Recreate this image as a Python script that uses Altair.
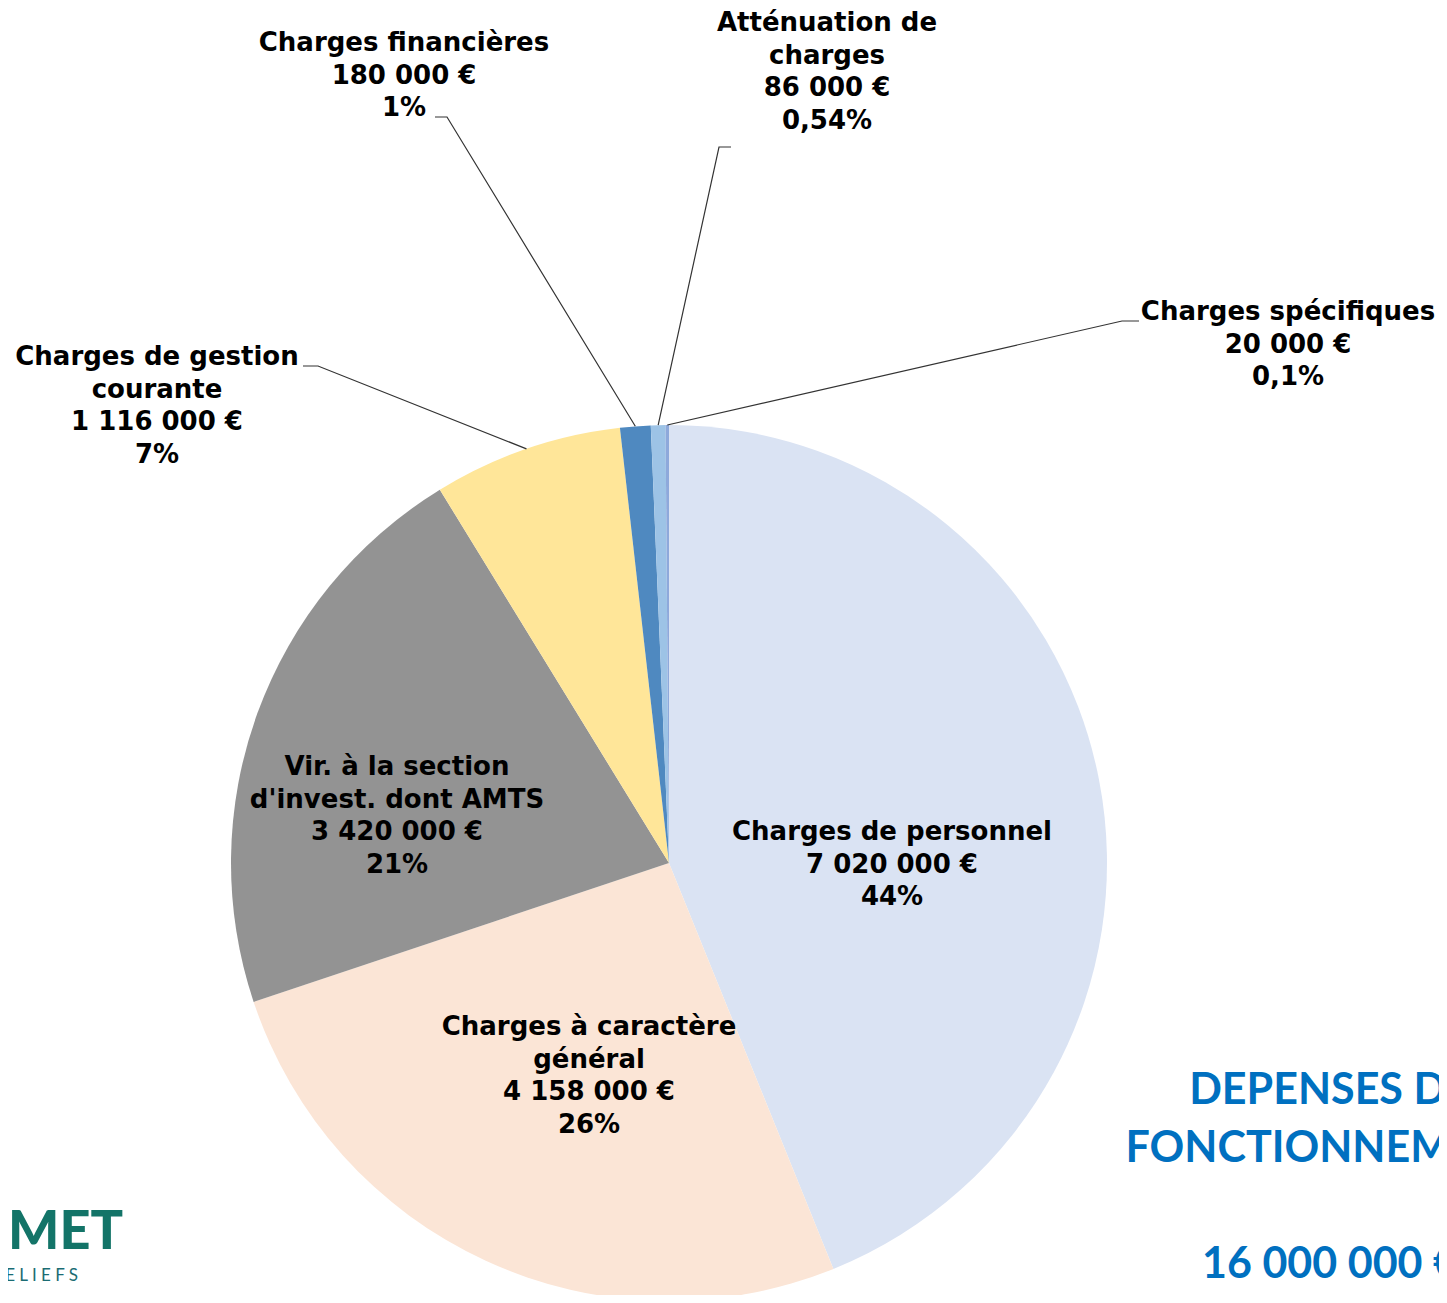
import math
import altair as alt
import pandas as pd

# ---------------- data ----------------
categories = [
    "Charges de personnel",
    "Charges à caractère général",
    "Vir. à la section d'invest. dont AMTS",
    "Charges de gestion courante",
    "Charges financières",
    "Atténuation de charges",
    "Charges spécifiques",
]
label_names = [
    ["Charges de personnel"],
    ["Charges à caractère", "général"],
    ["Vir. à la section", "d'invest. dont AMTS"],
    ["Charges de gestion", "courante"],
    ["Charges financières"],
    ["Atténuation de", "charges"],
    ["Charges spécifiques"],
]
values = [7020000, 4158000, 3420000, 1116000, 180000, 86000, 20000]
pct_labels = ["44%", "26%", "21%", "7%", "1%", "0,54%", "0,1%"]
title_lines = ["DEPENSES DE", "FONCTIONNEMENT", "", "16 000 000 €"]
logo_main = "MET"
logo_sub = "E L I E F S"

# ---------------- styles / layout ----------------
colors = ["#DAE3F3", "#FBE5D6", "#939393", "#FFE699", "#4F89C0", "#9DC3E6", "#8EA9DB"]
OFF = 8  # page margin
W, H = 1447 - 2 * OFF, 1303 - 2 * OFF
CX, CY, R = 669 - OFF, 863 - OFF, 438
FONT = "DejaVu Sans"
FS = 26
LH = 32.5
# label anchor: centre x, y of first line (page coords)
label_pos = [(892, 832), (589, 1027), (397, 767), (157, 357), (404, 43), (827, 23), (1288, 312)]
# leader lines: label-side points (page coords); None = no leader
leader_pts = [None, None, None,
              [(303, 366), (318, 366)],
              [(435, 117), (447, 117)],
              [(731, 147), (719, 147)],
              [(1139, 321), (1122, 321)]]


def fmt_eur(v):
    s = f"{v:,}".replace(",", " ")
    return s + " €"


total = sum(values)
pie_df = pd.DataFrame({"cat": categories, "value": values, "idx": list(range(len(values)))})

# text rows
rows = []
for i, cat in enumerate(categories):
    lines = label_names[i] + [fmt_eur(values[i]), pct_labels[i]]
    x0, y0 = label_pos[i]
    for k, t in enumerate(lines):
        rows.append({"px": x0 - OFF, "py": y0 - OFF + k * LH, "t": t})
text_df = pd.DataFrame(rows)

# leader lines: from label to slice edge at mid-angle
lrows = []
cum = 0
for i, v in enumerate(values):
    mid = (cum + v / 2) / total * 2 * math.pi
    cum += v
    if leader_pts[i] is None:
        continue
    pts = [(x - OFF, y - OFF) for x, y in leader_pts[i]]
    pts.append((CX + R * math.sin(mid), CY - R * math.cos(mid)))
    for k, (x, y) in enumerate(pts):
        lrows.append({"cat": categories[i], "k": k, "px": x, "py": y})
line_df = pd.DataFrame(lrows)

title_rows = [{"px": 1330 - OFF, "py": 1091 - OFF + k * 58, "t": t} for k, t in enumerate(title_lines) if t]
title_df = pd.DataFrame(title_rows)

xs = alt.X("px:Q", scale=None, axis=None)
ys = alt.Y("py:Q", scale=None, axis=None)

pie = alt.Chart(pie_df).mark_arc(radius=R).encode(
    theta=alt.Theta("value:Q", stack=True),
    color=alt.Color("cat:N", scale=alt.Scale(domain=categories, range=colors), legend=None),
    order=alt.Order("idx:Q", sort="ascending"),
    x=alt.value(CX),
    y=alt.value(CY),
)

leaders = alt.Chart(line_df).mark_line(color="#333333", strokeWidth=1.2).encode(
    x=xs, y=ys, detail="cat:N", order="k:Q"
)

labels = alt.Chart(text_df).mark_text(
    font=FONT, fontSize=FS, fontWeight="bold", color="#000000", align="center", baseline="middle"
).encode(x=xs, y=ys, text="t:N")

title = alt.Chart(title_df).mark_text(
    font="Lato", fontSize=43, fontWeight="bold", color="#0070C0", align="center", baseline="middle"
).encode(x=xs, y=ys, text="t:N")

logo_df = pd.DataFrame([{"px": 123 - OFF, "py": 1233 - OFF, "t": logo_main}])
logo_sub_df = pd.DataFrame([{"px": 78 - OFF, "py": 1276 - OFF, "t": logo_sub}])
logo = alt.Chart(logo_df).mark_text(
    font="Lato", fontSize=54, fontWeight=900, color="#137468", align="right", baseline="middle"
).encode(x=xs, y=ys, text="t:N")
logo2 = alt.Chart(logo_sub_df).mark_text(
    font="Lato", fontSize=17, fontWeight="normal", color="#1B6C73", align="right", baseline="middle"
).encode(x=xs, y=ys, text="t:N")

chart = alt.layer(pie, leaders, labels, title, logo, logo2).properties(
    width=W, height=H, autosize=alt.AutoSizeParams(type="none"), padding=0
).configure_view(stroke=None)

chart.save("out.html", embed_options={"renderer": "svg", "actions": False})
